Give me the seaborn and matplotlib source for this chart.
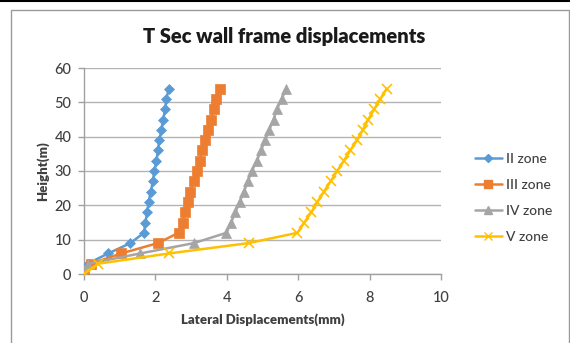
import matplotlib
matplotlib.use("Agg")
import matplotlib.pyplot as plt
import seaborn as sns
import pandas as pd
from matplotlib.patches import Rectangle
from matplotlib.lines import Line2D

heights = [0, 3, 6, 9, 12, 15, 18, 21, 24, 27, 30, 33, 36, 39, 42, 45, 48, 51, 54]
zone_ii = [0, 0.10, 0.68, 1.30, 1.68, 1.72, 1.77, 1.81, 1.87, 1.93, 1.97, 2.03, 2.07, 2.11, 2.17, 2.22, 2.27, 2.31, 2.37]
zone_iii = [0, 0.19, 1.05, 2.07, 2.65, 2.76, 2.83, 2.91, 2.98, 3.08, 3.17, 3.24, 3.31, 3.39, 3.48, 3.56, 3.63, 3.70, 3.80]
zone_iv = [0, 0.12, 1.58, 3.08, 3.99, 4.12, 4.24, 4.36, 4.48, 4.59, 4.70, 4.84, 4.96, 5.07, 5.19, 5.31, 5.40, 5.54, 5.66]
zone_v = [0, 0.40, 2.39, 4.61, 5.98, 6.17, 6.37, 6.54, 6.72, 6.91, 7.09, 7.28, 7.46, 7.65, 7.81, 7.96, 8.13, 8.30, 8.48]
series_names = ["II zone", "III zone", "IV zone", "V zone"]
title = "T Sec wall frame displacements"
xlabel = "Lateral Displacements(mm)"
ylabel = "Height(m)"

rows = []
for name, vals in zip(series_names, [zone_ii, zone_iii, zone_iv, zone_v]):
    for h, d in zip(heights, vals):
        rows.append({"zone": name, "disp": d, "height": h})
df = pd.DataFrame(rows)

sns.set_theme(style="white")
plt.rcParams["font.family"] = ["Lato", "DejaVu Sans"]

colors = {"II zone": "#5B9BD5", "III zone": "#ED7D31", "IV zone": "#A5A5A5", "V zone": "#FFC000"}
markers = {"II zone": "D", "III zone": "s", "IV zone": "^", "V zone": "x"}
msizes = {"II zone": 5.5, "III zone": 7, "IV zone": 7, "V zone": 7}

fig = plt.figure(figsize=(5.7, 3.43), dpi=100)
ax = fig.add_axes([84/570, 1-274/343, (441-84)/570, (274-68)/343])

for name in series_names:
    sub = df[df["zone"] == name]
    sns.lineplot(data=sub, x="disp", y="height", ax=ax, sort=False, color=colors[name],
                 marker=markers[name], markersize=msizes[name], linewidth=1.8,
                 markeredgecolor=colors[name], markeredgewidth=1.2 if name == "V zone" else 0.5,
                 estimator=None, legend=False, zorder=3)

ax.set_xlim(0, 10)
ax.set_ylim(0, 60)
ax.set_xticks(range(0, 11, 2))
ax.set_yticks(range(0, 61, 10))
ax.grid(axis="y", color="#b3b3b3", linewidth=1.0)
ax.grid(axis="x", visible=False)
for s in ["top", "right"]:
    ax.spines[s].set_visible(False)
for s in ["left", "bottom"]:
    ax.spines[s].set_color("#a0a0a0")
    ax.spines[s].set_linewidth(1.0)
ax.tick_params(axis="both", which="major", length=4, width=1.0, color="#a0a0a0",
               labelsize=10.5, labelcolor="#404040", direction="out", bottom=True, left=True)
ax.tick_params(axis="x", pad=8)
ax.tick_params(axis="y", pad=5)
for lab in ax.get_xticklabels() + ax.get_yticklabels():
    lab.set_fontweight("medium")
ax.set_xlabel(xlabel, fontsize=9.5, fontweight="heavy", color="#404040", labelpad=6)
ax.set_ylabel(ylabel, fontsize=9.5, fontweight="heavy", color="#404040", labelpad=4)
ax.set_axisbelow(True)

fig.text(284/570, 1-37/343, title, ha="center", va="center", fontsize=14.5, fontweight="heavy", color="#1a1a1a")

handles = [Line2D([0], [0], color=colors[n], marker=markers[n], markersize=msizes[n]-1.5,
                  linewidth=1.8, markeredgecolor=colors[n]) for n in series_names]
leg = fig.legend(handles, series_names, loc="center left", bbox_to_anchor=(462/570, 1-198/343),
                 frameon=False, fontsize=10, handlelength=2.0, labelspacing=1.0, handletextpad=0.3)
for t in leg.get_texts():
    t.set_color("#404040")
    t.set_fontweight("medium")

fig.patches.append(Rectangle((11/570, -0.05), (569-11)/570, 1.05 - 10/343, transform=fig.transFigure,
                             fill=False, edgecolor="#9a9a9a", linewidth=1.0))
fig.lines.append(Line2D([0, 1], [1-0.8/343, 1-0.8/343], transform=fig.transFigure, color="black", linewidth=1.5))

fig.savefig("out.png", dpi=100)
